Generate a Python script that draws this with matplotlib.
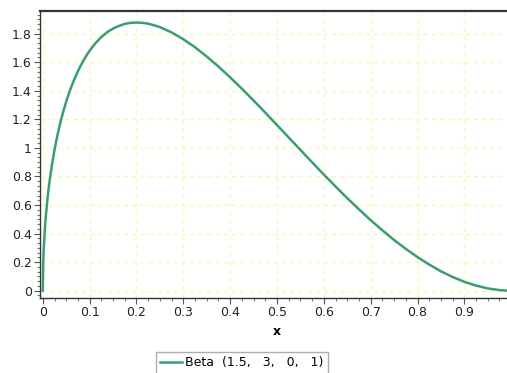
import matplotlib
matplotlib.use("Agg")
import matplotlib.pyplot as plt
from matplotlib.ticker import MultipleLocator, FuncFormatter

# Values (Beta(1.5, 3, 0, 1) density curve)
x_vals = [0.0, 0.0, 0.001, 0.002, 0.003, 0.005, 0.007, 0.01, 0.0125, 0.015, 0.02, 0.025,
          0.03, 0.035, 0.04, 0.045, 0.05, 0.05625, 0.0625, 0.06875, 0.075, 0.08125,
          0.0875, 0.09375, 0.1, 0.1125, 0.125, 0.1375, 0.15, 0.1625, 0.175, 0.1875,
          0.2, 0.2125, 0.225, 0.2375, 0.25, 0.275, 0.3, 0.325, 0.35, 0.375, 0.4,
          0.425, 0.45, 0.475, 0.5, 0.525, 0.55, 0.575, 0.6, 0.625, 0.65, 0.675,
          0.7, 0.725, 0.75, 0.775, 0.8, 0.825, 0.85, 0.875, 0.9, 0.925, 0.95,
          0.975, 0.99]
y_vals = [0.0, 0.0, 0.207, 0.292, 0.357, 0.459, 0.541, 0.643, 0.716, 0.780, 0.891, 0.986,
          1.070, 1.143, 1.210, 1.270, 1.324, 1.387, 1.442, 1.492, 1.538, 1.579,
          1.616, 1.650, 1.681, 1.734, 1.776, 1.811, 1.836, 1.854, 1.869, 1.876,
          1.878, 1.876, 1.870, 1.859, 1.846, 1.809, 1.761, 1.705, 1.640, 1.570, 1.494,
          1.415, 1.332, 1.247, 1.160, 1.073, 0.986, 0.899, 0.813, 0.730, 0.648, 0.570,
          0.494, 0.423, 0.355, 0.293, 0.235, 0.183, 0.136, 0.096, 0.062, 0.036, 0.016,
          0.004, 0.001]
series_label = "Beta  (1.5,   3,   0,   1)"
x_ticks = [0, 0.1, 0.2, 0.3, 0.4, 0.5, 0.6, 0.7, 0.8, 0.9, 1.0]
y_ticks = [0, 0.2, 0.4, 0.6, 0.8, 1.0, 1.2, 1.4, 1.6, 1.8]
x_label = "x"

plt.rcParams['font.family'] = ['DejaVu Sans']
fig = plt.figure(figsize=(5.07, 3.73), dpi=100)
ax = fig.add_axes([40/507, 75.3/373, 474/507, 287/373])

line, = ax.plot(x_vals, y_vals, color='#3a9e6e', lw=1.8, label=series_label,
                solid_joinstyle='round')

ax.set_xlim(-0.006, 1.006)
ax.set_ylim(-0.049, 1.961)
ax.set_xticks(x_ticks)
ax.set_yticks(y_ticks)
ax.xaxis.set_minor_locator(MultipleLocator(0.025))
ax.yaxis.set_minor_locator(MultipleLocator(0.2/6))
fmt = FuncFormatter(lambda v, p: ('%g' % round(v, 3)))
ax.xaxis.set_major_formatter(fmt)
ax.yaxis.set_major_formatter(fmt)
ax.tick_params(axis='both', which='major', length=4, width=0.8, color='#555555',
               labelsize=9, labelcolor='#222222', pad=2)
ax.tick_params(axis='both', which='minor', length=2.5, width=0.8, color='#777777')

ax.grid(True, which='major', color='#f7f7b8', linestyle=(0, (3, 3)), linewidth=1)
ax.set_axisbelow(True)

for s in ['left', 'bottom']:
    ax.spines[s].set_color('#333333')
    ax.spines[s].set_linewidth(1)
ax.spines['top'].set_color('#333333')
ax.spines['top'].set_linewidth(1.6)
ax.spines['right'].set_visible(False)

ax.set_xlabel(x_label, fontsize=9, fontweight='bold', labelpad=4)

leg = ax.legend(handles=[line], loc='upper left',
                bbox_to_anchor=(156/507, 1 - 352/373), bbox_transform=fig.transFigure,
                frameon=True, fancybox=False, edgecolor='#999999', fontsize=9,
                handlelength=1.7, handletextpad=0.3, borderpad=0.35, borderaxespad=0)
leg.get_frame().set_linewidth(1)

fig.savefig("out.png", dpi=100)
